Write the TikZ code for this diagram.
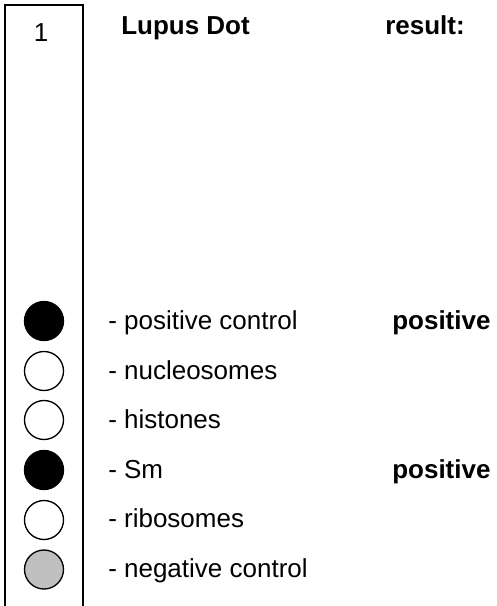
\documentclass[tikz,border=0pt]{standalone}
\usepackage{fontspec}
\setmainfont{Liberation Sans}
\usepackage{tikz}
\usetikzlibrary{positioning}
\definecolor{dotgray}{RGB}{192,192,192}

\begin{document}
\begin{tikzpicture}[
    x=0.75pt, y=-0.75pt,
    dot/.style={circle, draw, line width=1pt, minimum size=29.25pt, inner sep=0pt},
    item/.style={anchor=base west, inner sep=0pt, font=\fontsize{19.5}{23}\selectfont},
    head/.style={item, font=\fontsize{19.5}{23}\selectfont\bfseries}
]
    \useasboundingbox (0,0) rectangle (496,606);

    % Strip, open at the bottom
    \draw[line width=1.5pt] (5,607) -- (5,5.5) -- (82.5,5.5) -- (82.5,607);
    \node[item, anchor=base] (num) at (41,42) {1};

    % Heading
    \node[head] (title) at (121,35) {Lupus Dot};
    \node[head] (res) at (385,35) {result:};

    % Dots on the strip
    \node[dot, fill=black] (D1) at (44,321) {};
    \node[dot, fill=white] (D2) at (44,371) {};
    \node[dot, fill=white] (D3) at (44,420) {};
    \node[dot, fill=black] (D4) at (44,470) {};
    \node[dot, fill=white] (D5) at (44,520) {};
    \node[dot, fill=dotgray] (D6) at (44,569.5) {};

    % Antigen names
    \node[item] (L1) at (108,329) {- positive control};
    \node[item] (L2) at (108,379) {- nucleosomes};
    \node[item] (L3) at (108,428) {- histones};
    \node[item] (L4) at (108,478) {- Sm};
    \node[item] (L5) at (108,527) {- ribosomes};
    \node[item] (L6) at (108,577) {- negative control};

    % Results
    \node[head] (R1) at (392,329) {positive};
    \node[head] (R4) at (392,478) {positive};
\end{tikzpicture}
\end{document}
